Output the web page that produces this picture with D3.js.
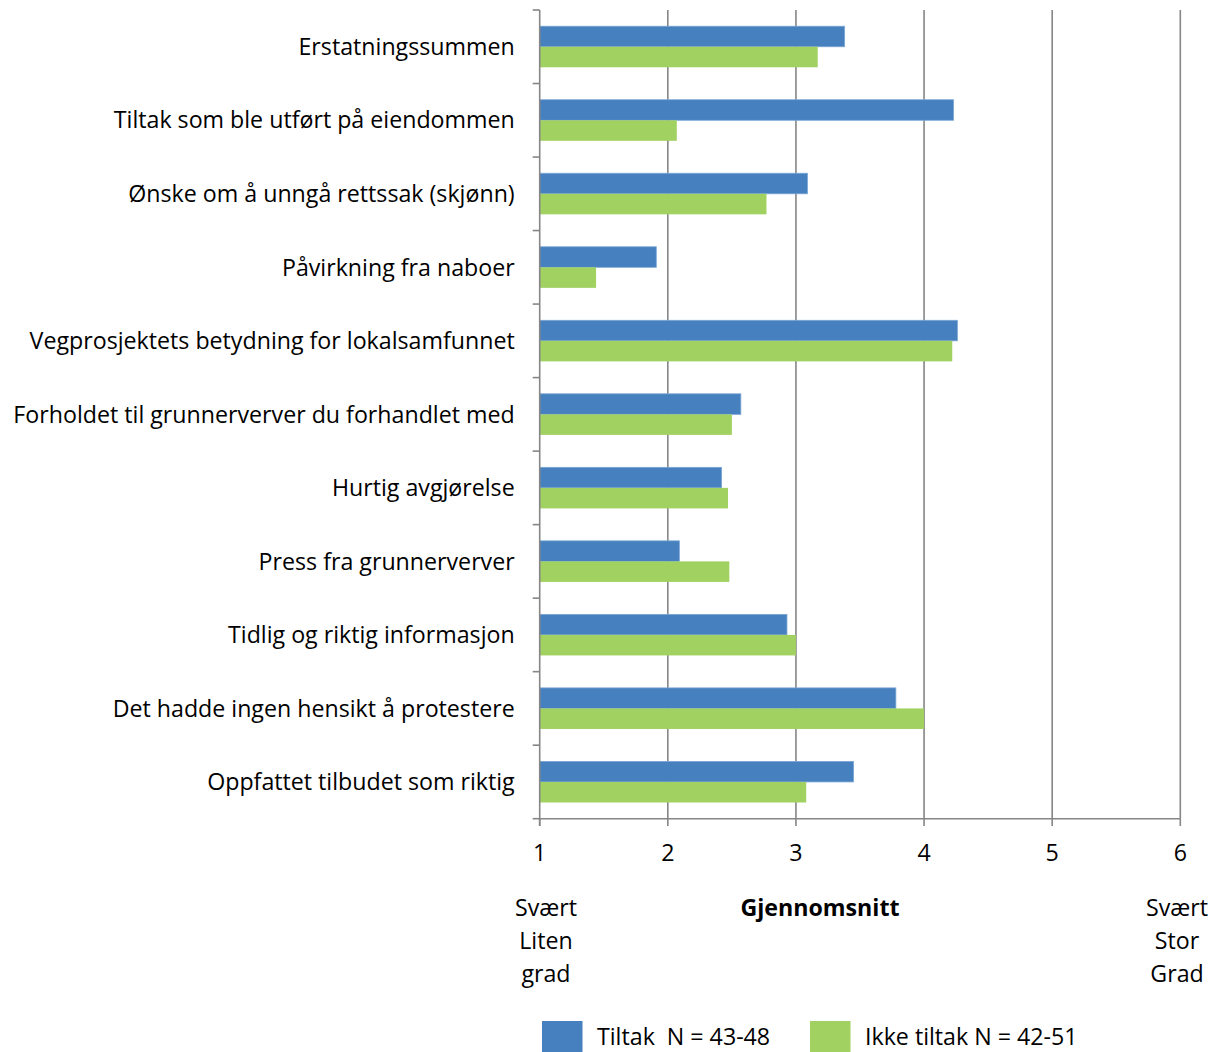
<!DOCTYPE html>
<html><head><meta charset="utf-8">
<script src="https://cdn.jsdelivr.net/npm/d3@7"></script>
<style>body{margin:0;background:#fff}svg{display:block}</style>
</head><body>
<script>
const categories = ["Erstatningssummen","Tiltak som ble utført på eiendommen","Ønske om å unngå rettssak (skjønn)","Påvirkning fra naboer","Vegprosjektets betydning for lokalsamfunnet","Forholdet til grunnerverver du forhandlet med","Hurtig avgjørelse","Press fra grunnerverver","Tidlig og riktig informasjon","Det hadde ingen hensikt å protestere","Oppfattet tilbudet som riktig"];
const tiltak = [3.38,4.23,3.09,1.91,4.26,2.57,2.42,2.09,2.93,3.78,3.45];
const ikkeTiltak = [3.17,2.07,2.77,1.44,4.22,2.50,2.47,2.48,3.00,4.00,3.08];
const xTicks = [1,2,3,4,5,6];
const seriesNames = ["Tiltak  N = 43-48","Ikke tiltak N = 42-51"];
const seriesColors = ["#4780BE","#A1D161"];

const W=1219,H=1052;
const font="'Open Sans', sans-serif";
const fs=23.2;
const dy=2;
const svg=d3.select("body").append("svg").attr("width",W).attr("height",H).style("font-family",font);
const x=d3.scaleLinear().domain([1,6]).range([539.7,1180.3]);
const y=d3.scaleBand().domain(categories).range([10,818.7]).paddingInner(0).paddingOuter(0);
const inner=d3.scaleBand().domain([0,1]).range([0,y.bandwidth()]).paddingOuter(0.79).paddingInner(0);

// gridlines
svg.append("g").selectAll("line").data(xTicks.slice(1)).join("line")
 .attr("x1",d=>x(d)).attr("x2",d=>x(d)).attr("y1",10).attr("y2",818.7)
 .attr("stroke","#868686").attr("stroke-width",1.6);

// bars
const g=svg.append("g");
categories.forEach((c,i)=>{
  [tiltak[i],ikkeTiltak[i]].forEach((v,s)=>{
    g.append("rect").attr("x",x(1)).attr("y",y(c)+inner(s)).attr("width",x(v)-x(1)).attr("height",inner.bandwidth())
     .attr("fill",seriesColors[s]).attr("stroke",s===0?"#7aa6d6":"none").attr("stroke-width",0.8);
  });
});

// y axis
const ya=svg.append("g").attr("transform",`translate(${x(1)},0)`);
ya.append("line").attr("x1",0).attr("x2",0).attr("y1",10).attr("y2",826).attr("stroke","#868686").attr("stroke-width",1.6);
const yTickPos=d3.range(categories.length+1).map(i=>10+i*y.step());
ya.selectAll("line.t").data(yTickPos).join("line").attr("class","t").attr("x1",-7).attr("x2",0).attr("y1",d=>d).attr("y2",d=>d).attr("stroke","#868686").attr("stroke-width",1.6);
ya.selectAll("text").data(categories).join("text").attr("x",-25).attr("y",d=>y(d)+y.bandwidth()*0.5+dy)
 .attr("text-anchor","end").attr("dominant-baseline","middle").attr("font-size",fs).attr("fill","#000").text(d=>d);

// x axis
const xa=svg.append("g");
xa.append("line").attr("x1",x(1)).attr("x2",x(6)).attr("y1",818.7).attr("y2",818.7).attr("stroke","#868686").attr("stroke-width",1.6);
xa.selectAll("line.t").data(xTicks).join("line").attr("class","t").attr("x1",d=>x(d)).attr("x2",d=>x(d)).attr("y1",818.7).attr("y2",826).attr("stroke","#868686").attr("stroke-width",1.6);
xa.selectAll("text").data(xTicks).join("text").attr("x",d=>x(d)).attr("y",853+dy).attr("text-anchor","middle").attr("dominant-baseline","middle").attr("font-size",fs).text(d=>d);

// bottom labels
const left=["Svært","Liten","grad"], right=["Svært","Stor","Grad"];
left.forEach((t,i)=>svg.append("text").attr("x",546).attr("y",908+dy+i*33).attr("text-anchor","middle").attr("dominant-baseline","middle").attr("font-size",fs).text(t));
right.forEach((t,i)=>svg.append("text").attr("x",1177).attr("y",908+dy+i*33).attr("text-anchor","middle").attr("dominant-baseline","middle").attr("font-size",fs).text(t));
svg.append("text").attr("x",820).attr("y",908+dy).attr("text-anchor","middle").attr("dominant-baseline","middle").attr("font-size",fs).attr("font-weight","bold").text("Gjennomsnitt");

// legend
const lx=[542,810];
seriesNames.forEach((n,i)=>{
  svg.append("rect").attr("x",lx[i]).attr("y",1021).attr("width",40.5).attr("height",33).attr("fill",seriesColors[i]);
  svg.append("text").attr("x",lx[i]+55).attr("y",1045).attr("font-size",fs).attr("xml:space","preserve").style("white-space","pre").text(n);
});
</script>
</body></html>
